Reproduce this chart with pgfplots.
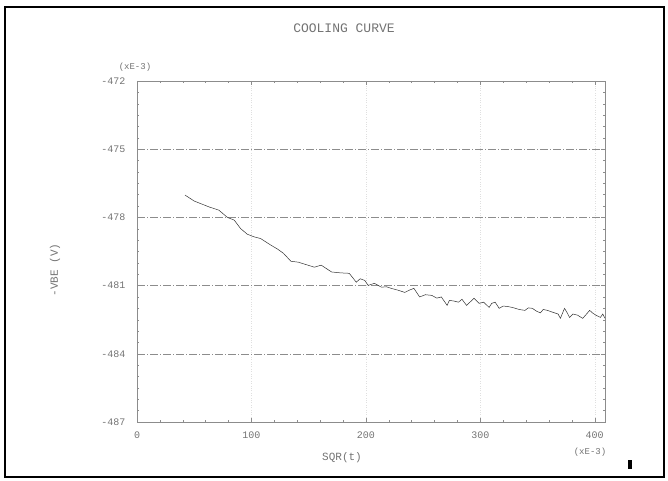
\documentclass[border=0pt]{standalone}
\usepackage{pgfplots}
\pgfplotsset{compat=1.18}
\usepackage{fontspec}
\setmainfont{Liberation Mono}
\definecolor{txt}{gray}{0.45}
\definecolor{grd}{gray}{0.55}
\begin{document}
\begin{tikzpicture}
\useasboundingbox (0pt,0pt) rectangle (668pt,480pt);
\draw[black, line width=1.2pt] (5pt,3pt) rectangle (664pt,473pt);
\node[txt, font=\fontsize{13}{15}\selectfont] at (344pt,452pt) {COOLING CURVE};
\node[txt, font=\fontsize{9}{11}\selectfont] at (135pt,413pt) {(xE-3)};
\node[txt, font=\fontsize{9}{11}\selectfont] at (590pt,28pt) {(xE-3)};
\node[txt, font=\fontsize{11}{13}\selectfont] at (342pt,22pt) {SQR(t)};
\node[txt, font=\fontsize{11}{13}\selectfont, rotate=90] at (55pt,210pt) {-VBE (V)};
\fill[black] (628pt,11pt) rectangle (632pt,20pt);
\begin{axis}[
  at={(137pt,58pt)}, anchor=south west,
  scale only axis, width=468pt, height=341pt,
  xmin=0, xmax=409, ymin=-487, ymax=-472,
  xtick={0,100,200,300,400},
  ytick={-487,-484,-481,-478,-475,-472},
  minor x tick num=4, minor y tick num=5,
  tick align=inside,
  major tick length=4pt, minor tick length=2pt,
  every tick/.style={grd, line width=0.4pt},
  axis line style={grd, line width=0.6pt},
  xmajorgrids, ymajorgrids,
  x grid style={gray!25, dotted, line width=0.4pt},
  y grid style={grd, dash pattern=on 8pt off 2pt on 1pt off 2pt, line width=0.6pt},
  tick label style={txt, font=\fontsize{10}{12}\selectfont},
  /pgf/number format/assume math mode=true,
  yticklabel style={xshift=-8pt},
  xticklabel style={yshift=-6pt},
  scaled ticks=false,
  yticklabel={\pgfmathprintnumber[int detect]{\tick}},
]
\addplot[gray!40!black, line width=0.5pt] coordinates {
(42,-477.02) (50,-477.28) (56,-477.40) (63,-477.54) (71.5,-477.68) (79,-478.0)
(85,-478.12) (90.5,-478.49) (96.4,-478.74) (102,-478.85) (108,-478.93)
(117,-479.22) (123,-479.40) (128,-479.58) (134.5,-479.93) (141,-479.97)
(148,-480.08) (155,-480.19) (161,-480.10) (170,-480.40) (178,-480.44)
(185.5,-480.46) (191.6,-480.85) (195,-480.70) (199,-480.77) (202,-480.99)
(207.5,-480.90) (213.6,-481.07) (218,-481.05) (222,-481.12) (228,-481.20)
(234,-481.30) (238,-481.20) (242,-481.12) (247,-481.50) (252,-481.40)
(257.6,-481.43) (262,-481.55) (266,-481.50) (271,-481.87) (273,-481.65)
(277,-481.68) (281,-481.73) (284,-481.60) (288,-481.87) (294.5,-481.56)
(299,-481.78) (303,-481.73) (307.7,-481.96) (310,-481.78) (313,-481.73)
(316.5,-482.0) (320,-481.90) (324,-481.92) (328,-481.96) (334,-482.05)
(339,-482.09) (342,-481.98) (345.5,-482.0) (349,-482.12) (352.5,-482.2)
(355,-482.05) (358.7,-482.09) (362,-482.15) (365,-482.2) (368,-482.25)
(370,-482.44) (373.6,-482.0) (376,-482.2) (378,-482.4) (381,-482.25)
(385,-482.3) (389.5,-482.44) (392,-482.3) (395.6,-482.09) (398,-482.2)
(401,-482.3) (405,-482.4) (407,-482.25) (409,-482.44)
};
\end{axis}
\end{tikzpicture}
\end{document}
